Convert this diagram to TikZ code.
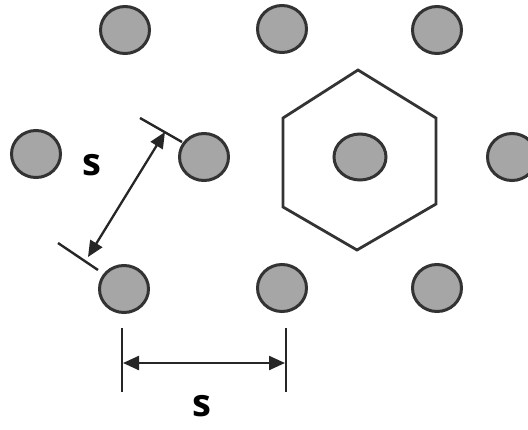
\documentclass[tikz,border=0pt]{standalone}
\usepackage{fontspec}
\setmainfont{Open Sans}
\usetikzlibrary{arrows.meta,shapes.geometric}
\begin{document}
\begin{tikzpicture}[x=1pt,y=-1pt,
  atom/.style={ellipse,draw=black!80,fill=black!35,line width=3pt,minimum width=49pt,minimum height=47pt,inner sep=0pt},
  dimline/.style={line width=2.3pt,draw=black!85,{Triangle[length=16pt,width=14pt]}-{Triangle[length=16pt,width=14pt]}},
  tick/.style={line width=2.4pt,draw=black!85},
  hexline/.style={line width=2.8pt,draw=black!80},
  lab/.style={font=\fontsize{38}{40}\selectfont\bfseries,inner sep=0pt}]
\useasboundingbox (0,0) rectangle (528,429);
% atoms
\node[atom] (t1) at (125,30) {};
\node[atom] (t2) at (282,29) {};
\node[atom] (t3) at (437,30) {};
\node[atom] (m1) at (36,154) {};
\node[atom] (m2) at (204,157) {};
\node[atom,minimum width=52pt,minimum height=46pt] (m3) at (360,157) {};
\node[atom] (m4) at (512,157) {};
\node[atom] (b1) at (124,289) {};
\node[atom] (b2) at (282,288) {};
\node[atom] (b3) at (437,288) {};
% hexagon
\coordinate (h1) at (358,70);
\coordinate (h2) at (436,118);
\coordinate (h3) at (436,204);
\coordinate (h4) at (357,250);
\coordinate (h5) at (283,207);
\coordinate (h6) at (283,118);
\draw[hexline,line join=miter] (h1) -- (h2) -- (h3) -- (h4) -- (h5) -- (h6) -- cycle;
% diagonal dimension
\coordinate (ta1) at (140,118);
\coordinate (ta2) at (182,142);
\coordinate (tb1) at (58,243);
\coordinate (tb2) at (98,270);
\coordinate (da) at (165,132);
\coordinate (db) at (88,257);
\draw[tick] (ta1) -- (ta2);
\draw[tick] (tb1) -- (tb2);
\draw[dimline] (db) -- (da);
\node[lab] (s1) at (92,165) {s};
% horizontal dimension
\coordinate (va1) at (122,328);
\coordinate (va2) at (122,392);
\coordinate (vb1) at (286,328);
\coordinate (vb2) at (286,392);
\coordinate (ha) at (123,363);
\coordinate (hb) at (285,363);
\draw[tick] (va1) -- (va2);
\draw[tick] (vb1) -- (vb2);
\draw[dimline] (ha) -- (hb);
\node[lab] (s2) at (202,406) {s};
\end{tikzpicture}
\end{document}
